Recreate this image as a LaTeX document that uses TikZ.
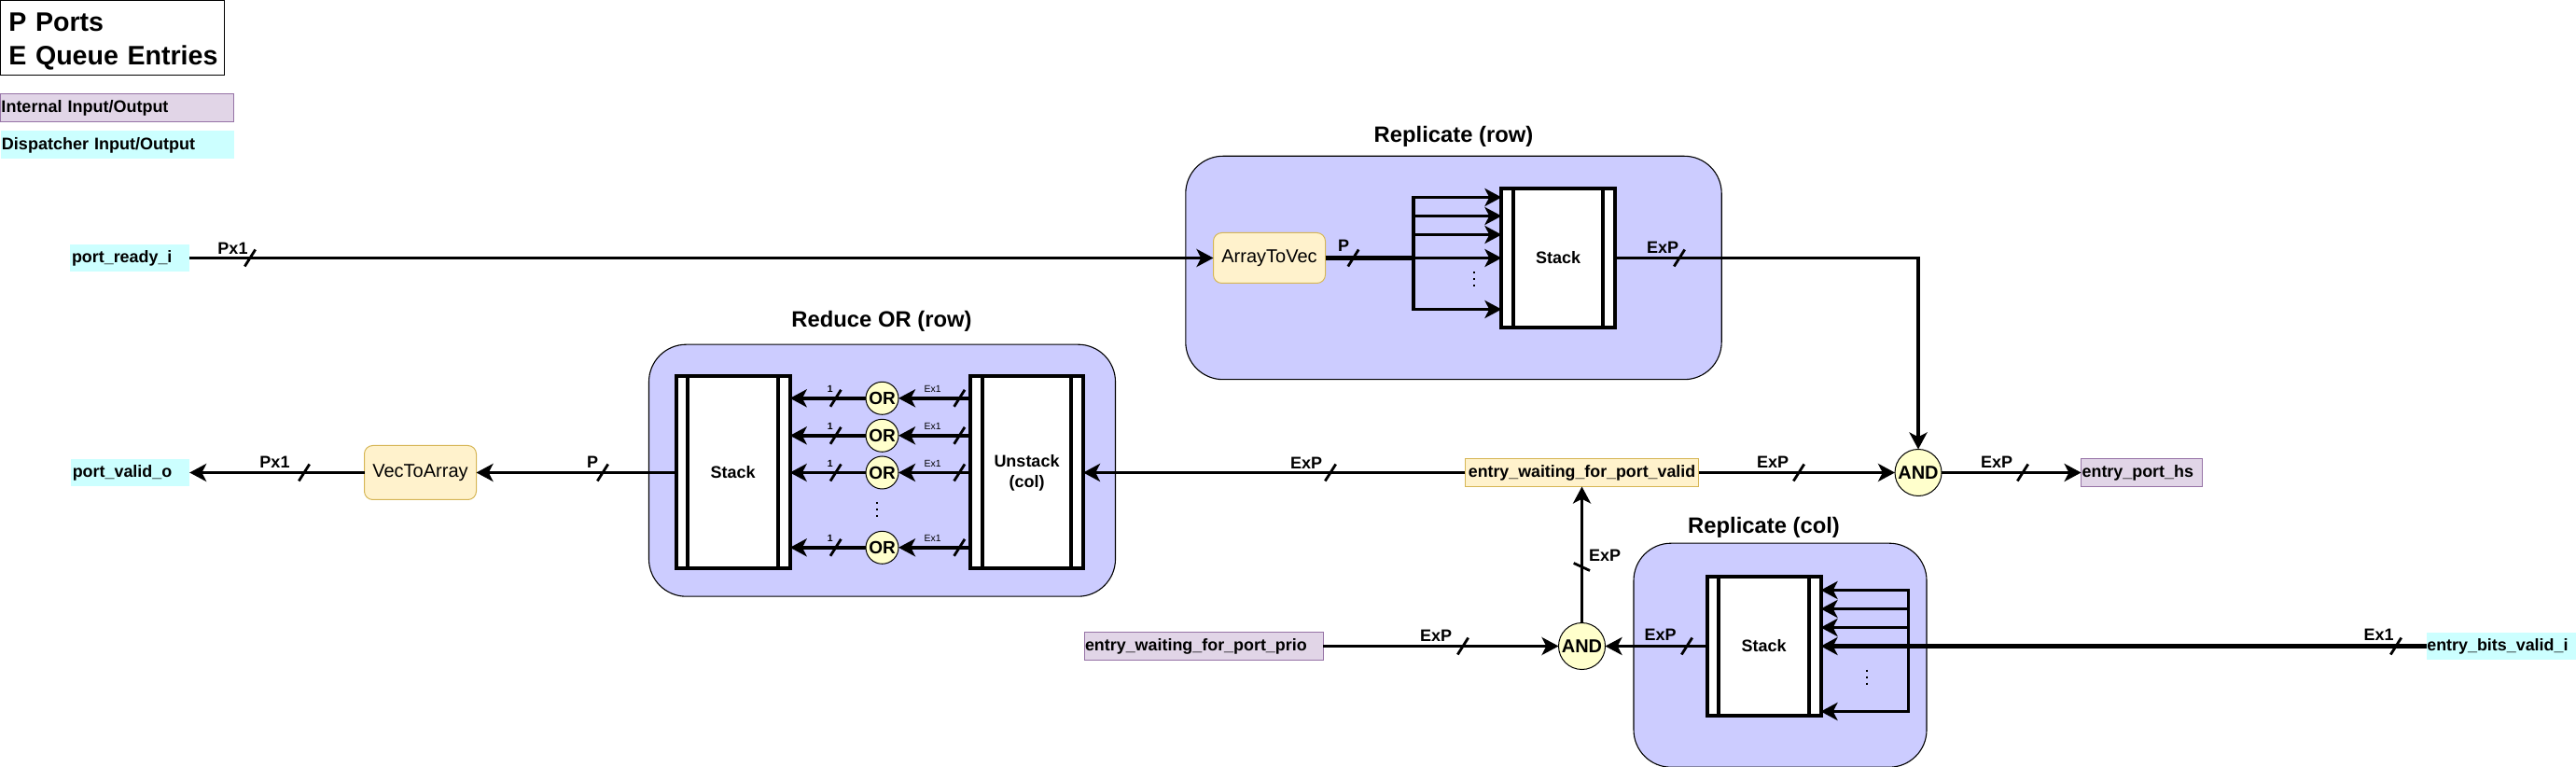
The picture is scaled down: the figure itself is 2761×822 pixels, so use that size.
\documentclass[tikz,border=0pt]{standalone}
\usepackage{fontspec}
\setmainfont{Liberation Sans}
\usetikzlibrary{arrows.meta}
\definecolor{blockblue}{HTML}{CCCCFF}
\definecolor{soft}{HTML}{FFF2CC}
\definecolor{softline}{HTML}{D6B656}
\definecolor{gatefill}{HTML}{FFFFCC}
\definecolor{internalfill}{HTML}{E1D5E7}
\definecolor{internalline}{HTML}{9673A6}
\definecolor{dispatchfill}{HTML}{CCFFFF}
\tikzset{
  x=0.5pt,y=-0.5pt,
  region/.style={draw=black,line width=0.55pt,fill=blockblue,rounded corners=20pt,inner sep=0,outer sep=0},
  stackblock/.style={draw=black,line width=2pt,fill=white,inner sep=0,outer sep=0,font=\bfseries\fontsize{9}{11}\selectfont,align=center},
  softbox/.style={draw=softline,line width=0.5pt,fill=soft,rounded corners=4.5pt,inner sep=0,outer sep=0,font=\fontsize{10}{12}\selectfont},
  softsig/.style={draw=softline,line width=0.5pt,fill=soft,inner sep=0,outer sep=0,font=\bfseries\fontsize{8.9}{11}\selectfont},
  gate/.style={circle,draw=black,line width=0.5pt,fill=gatefill,inner sep=0,outer sep=0,font=\bfseries\fontsize{10}{12}\selectfont},
  internalsig/.style={draw=internalline,line width=0.5pt,fill=internalfill,inner sep=0,outer sep=0,align=left,font=\bfseries\fontsize{8.95}{11}\selectfont},
  dispatchsig/.style={fill=dispatchfill,inner sep=0,outer sep=0,align=left,font=\bfseries\fontsize{8.95}{11}\selectfont},
  legendsig/.style={font=\bfseries\fontsize{9}{11}\selectfont,anchor=north west,minimum width=125pt,minimum height=15pt,text width=124pt},
  heading/.style={font=\bfseries\fontsize{11.9}{14}\selectfont,inner sep=0},
  wlabel/.style={font=\bfseries\fontsize{9}{11}\selectfont,inner sep=0},
  tinylabel/.style={font=\fontsize{5.2}{6}\selectfont,inner sep=0},
  wire/.style={draw=black,line width=1.9pt},
  thickwire/.style={draw=black,line width=2.6pt},
  flow/.style={wire,-{Stealth[length=9pt,width=9.5pt,inset=2.4pt]}},
  thickflow/.style={thickwire,-{Stealth[length=9pt,width=9.5pt,inset=2.4pt]}},
  wiretickline/.style={draw=black,line width=1.4pt},
  bar/.style={draw=black,line width=2pt},
  vdots/.style={draw=black,line width=0.9pt,dash pattern=on 1pt off 2.5pt},
}
\newcommand{\wiretick}[2]{\draw[wiretickline] (#1-5.7,#2+9) -- (#1+5.7,#2-9);}
\newcommand{\blockbars}[1]{%
  \draw[bar] ([xshift=6.3pt]#1.north west) -- ([xshift=6.3pt]#1.south west);
  \draw[bar] ([xshift=-6.3pt]#1.north east) -- ([xshift=-6.3pt]#1.south east);}
\begin{document}
\begin{tikzpicture}
\useasboundingbox (0,0) rectangle (2761,822);
% legend
\node[draw=black,line width=0.55pt,fill=white,anchor=north west,minimum width=120pt,minimum height=40pt,inner sep=0,outer sep=0,text width=116.5pt,align=right,font=\bfseries\fontsize{14.3}{17.5}\selectfont] (legend) at (0.5,0.5) {\rule{0pt}{13.6pt}\makebox[113.8pt][l]{P Ports}\\[0.6pt]\makebox[113.8pt][l]{E Queue Entries}};
\node[internalsig,legendsig] (lint) at (0.5,100.5) {Internal Input/Output};
\node[dispatchsig,legendsig] (ldisp) at (1,140.5) {Dispatcher Input/Output};
\begin{scope}[yshift=-0.75pt]
% regions
\node[region,minimum width=287.2pt,minimum height=119.7pt] (rowbox) at (1558,285.5) {};
\node[region,minimum width=250pt,minimum height=135pt] (orbox) at (945.5,502.7) {};
\node[region,minimum width=157pt,minimum height=120pt] (colbox) at (1908,700.7) {};
\node[heading] (trow) at (1558,145) {Replicate (row)};
\node[heading] (tor) at (945,343) {Reduce OR (row)};
\node[heading] (tcol) at (1890.5,564) {Replicate (col)};
% blocks
\node[stackblock,minimum width=60.8pt,minimum height=74.6pt] (rs) at (1670.2,275) {Stack};
\node[stackblock,minimum width=61pt,minimum height=74.5pt] (cs) at (1890.5,691) {Stack};
\node[stackblock,minimum width=61pt,minimum height=103pt] (st) at (785.7,505) {Stack};
\node[stackblock,minimum width=60.5pt,minimum height=103pt] (un) at (1100.5,505) {Unstack\\(col)};
\blockbars{rs}\blockbars{cs}\blockbars{st}\blockbars{un}
% soft boxes
\node[softbox,minimum width=60pt,minimum height=27pt] (a2v) at (1360.5,275) {ArrayToVec};
\node[softbox,minimum width=60pt,minimum height=29pt] (v2a) at (450.5,505) {VecToArray};
\node[softsig,minimum width=125.2pt,minimum height=15pt] (ewv) at (1695.5,505) {entry\_waiting\_for\_port\_valid};
% signals
\node[dispatchsig,minimum width=64pt,minimum height=14.7pt,text width=62pt] (pri) at (139,275) {port\_ready\_i};
\node[dispatchsig,minimum width=63.7pt,minimum height=14.8pt,text width=61.7pt] (pvo) at (139.5,505) {port\_valid\_o};
\node[dispatchsig,minimum width=80.2pt,minimum height=14.6pt,text width=79.4pt] (ebv) at (2680.7,691) {entry\_bits\_valid\_i};
\node[internalsig,minimum width=65pt,minimum height=15pt,text width=64pt] (eph) at (2295.6,505) {entry\_port\_hs};
\node[internalsig,minimum width=128pt,minimum height=14.5pt,text width=127pt] (ewp) at (1290,691) {entry\_waiting\_for\_port\_prio};
% gates
\node[gate,minimum size=25pt] (andt) at (2056,505) {AND};
\node[gate,minimum size=25pt] (andb) at (1695.5,691) {AND};
\foreach \nm/\yy in {or1/425.3,or2/465.3,or3/505,or4/585.3}{
  \node[gate,minimum size=17.5pt,font=\bfseries\fontsize{9.5}{11}\selectfont] (\nm) at (945.5,\yy) {OR};
}
% connectors: replicate (row)
\coordinate (rf1) at (1515,210);
\coordinate (rf2) at (1515,230);
\coordinate (rf3) at (1515,250);
\coordinate (rfm) at (1515,275);
\coordinate (rf5) at (1515,330);
\draw[flow] (pri.east) -- (a2v.west);
\draw[thickwire] (a2v.east) -- (rfm);
\draw[wire,line cap=rect] (rf1) -- (rf5);
\foreach \c in {rf1,rf2,rf3,rf5}{\draw[flow] (\c) -- (\c -| rs.west);}
\draw[flow] (rfm) -- (rs.west);
\draw[flow] (rs.east) -| (andt.north);
% connectors: middle row
\draw[flow] (ewv.west) -- (un.east);
\draw[flow] (ewv.east) -- (andt.west);
\draw[flow] (andt.east) -- (eph.west);
\foreach \nm in {or1,or2,or3,or4}{
  \draw[flow] (\nm -| un.west) -- (\nm.east);
  \draw[flow] (\nm.west) -- (\nm -| st.east);
}
\draw[flow] (st.west) -- (v2a.east);
\draw[flow] (v2a.west) -- (pvo.east);
% connectors: bottom row
\coordinate (cf1) at (2045.5,631);
\coordinate (cf2) at (2045.5,651);
\coordinate (cf3) at (2045.5,671);
\coordinate (cf5) at (2045.5,761);
\draw[thickflow] (ebv.west) -- (cs.east);
\draw[wire,line cap=rect] (cf1) -- (cf5);
\foreach \c in {cf1,cf2,cf3,cf5}{\draw[flow] (\c) -- (\c -| cs.east);}
\draw[flow] (cs.west) -- (andb.east);
\draw[flow] (ewp.east) -- (andb.west);
\draw[flow] (andb.north) -- (ewv.south);
% ticks
\wiretick{268}{275}\wiretick{1450.5}{275}\wiretick{1800}{275}
\wiretick{326}{505}\wiretick{646}{505}\wiretick{1426}{505}\wiretick{1928}{505}\wiretick{2168}{505}
\wiretick{1568}{691}\wiretick{1808}{691}\wiretick{2568}{691}
\draw[wiretickline] (1686.7,602) -- (1704,610);
\foreach \yy in {425.3,465.3,505,585.3}{
  \wiretick{895.7}{\yy}\wiretick{1028.3}{\yy}
}
% wire labels
\node[wlabel] (l1) at (249.5,264.5) {Px1};
\node[wlabel] (l2) at (1440,262) {P};
\node[wlabel] (l3) at (1782,264) {ExP};
\node[wlabel] (l4) at (294.5,494) {Px1};
\node[wlabel] (l5) at (635,494) {P};
\node[wlabel] (l6) at (1400,495) {ExP};
\node[wlabel] (l7) at (1900,494) {ExP};
\node[wlabel] (l8) at (2140,494) {ExP};
\node[wlabel] (l9) at (1720,594) {ExP};
\node[wlabel] (l10) at (1539,680) {ExP};
\node[wlabel] (l11) at (1779.7,679) {ExP};
\node[wlabel] (l12) at (2549.5,679) {Ex1};
\foreach \yy/\id in {415.5/a,455.5/b,495.5/c,575.5/d}{
  \node[tinylabel] (one\id) at (889.7,\yy) {\bfseries 1};
  \node[tinylabel] (ex\id) at (999.6,\yy) {Ex1};
}
% ellipses
\draw[vdots] (1580,290) -- (1580,311);
\draw[vdots] (940.3,537) -- (940.3,558);
\draw[vdots] (2000.8,716) -- (2000.8,737);
\end{scope}
\end{tikzpicture}
\end{document}
